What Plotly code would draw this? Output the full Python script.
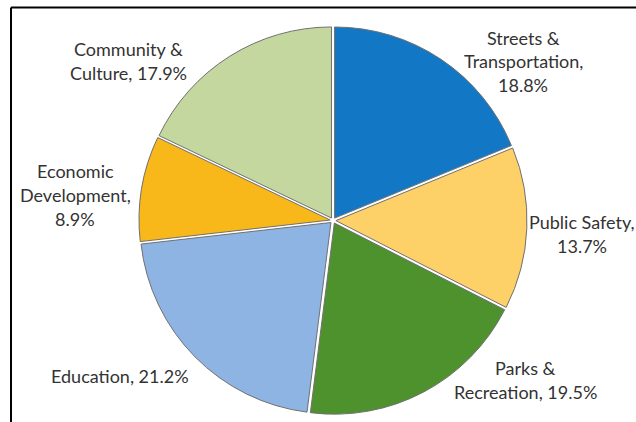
import plotly.graph_objects as go

# Budget shares by category, clockwise from 12 o'clock
categories = ["Streets &<br>Transportation", "Public Safety", "Parks &<br>Recreation",
              "Education", "Economic<br>Development", "Community &<br>Culture"]
shares = [18.8, 13.7, 19.5, 21.2, 8.9, 17.9]
value_breaks = ["<br>", "<br>", " ", " ", "<br>", " "]
colors = ["#1278C5", "#FDD068", "#4E922E", "#8EB4E3", "#F8B81A", "#C4D79E"]

# Label centres in pixels (x, y from top)
label_centres = [(523, 61), (582, 234), (525, 380), (120, 376), (75, 195), (128, 61)]

W, H = 636, 422
LINE_GAP = 23.5

fig = go.Figure(go.Pie(
    labels=[c.replace("<br>", " ") for c in categories],
    values=shares,
    sort=False,
    direction="clockwise",
    rotation=0,
    pull=0.015,
    textinfo="none",
    hoverinfo="label+percent",
    marker=dict(colors=colors, line=dict(color="#707070", width=1)),
    domain=dict(x=[139 / W, 527 / W], y=[(H - 415) / H, (H - 26) / H]),
    showlegend=False,
))

annotations = []
for name, val, sep, (cx, cy) in zip(categories, shares, value_breaks, label_centres):
    text = f"{name},{sep}{val:.1f}%"
    lines = text.split("<br>")
    n = len(lines)
    for i, line in enumerate(lines):
        y = cy + (i - (n - 1) / 2) * LINE_GAP
        annotations.append(dict(
            x=cx / W, y=1 - y / H, xref="paper", yref="paper",
            text=line, showarrow=False, xanchor="center", yanchor="middle",
            font=dict(family="Lato, 'Open Sans', sans-serif", size=18, color="#333333"),
        ))

# Chart frame (top and left edges)
frame = [
    dict(type="line", xref="paper", yref="paper", x0=11 / W, x1=1, y0=1 - 7.5 / H, y1=1 - 7.5 / H,
         line=dict(color="#000000", width=2)),
    dict(type="line", xref="paper", yref="paper", x0=11 / W, x1=11 / W, y0=0, y1=1 - 7.5 / H,
         line=dict(color="#000000", width=2)),
]

fig.update_layout(
    width=W, height=H,
    margin=dict(l=0, r=0, t=0, b=0),
    paper_bgcolor="white",
    plot_bgcolor="white",
    annotations=annotations,
    shapes=frame,
)

fig.write_html("out.html")
